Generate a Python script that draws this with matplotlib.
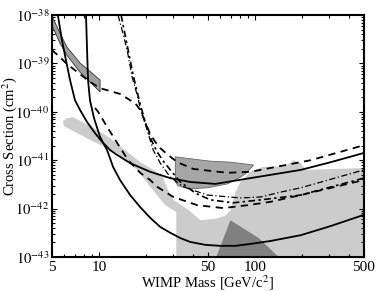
import numpy as np
import matplotlib
matplotlib.use('Agg')
import matplotlib.pyplot as plt
from matplotlib.ticker import LogLocator, FixedLocator, NullFormatter

plt.rcParams['font.family'] = ['Liberation Serif', 'DejaVu Serif']
plt.rcParams['mathtext.fontset'] = 'stix'

# ---- data (mass in GeV/c^2, log10 of cross section in cm^2) ----
# solid limit, flattening one
solidA_m = [5.46, 5.63, 5.80, 6.15, 6.53, 7.03, 7.57, 8.40, 9.45, 10.49, 11.8, 13.09, 15.87, 21.34, 28.7, 38.6, 55.8, 93.8, 197, 307, 500]
solidA_s = [-38.0, -38.27, -38.52, -38.93, -39.34, -39.76, -39.96, -40.21, -40.44, -40.62, -40.79, -40.89, -41.06, -41.24, -41.37, -41.45, -41.49, -41.37, -41.20, -41.04, -40.85]

# solid limit, steep one
solidB_m = [8.27, 8.40, 8.52, 8.77, 9.31, 10.18, 11.29, 12.34, 13.68, 15.87, 18.41, 21.34, 24.75, 28.7, 33.3, 38.6,
            48.2, 60.1, 75.1, 93.8, 126, 197, 307, 500]
solidB_s = [-38.0, -38.72, -39.34, -39.76, -40.13, -40.52, -40.79, -41.14, -41.41, -41.72, -41.97, -42.19, -42.38, -42.50, -42.61, -42.69,
            -42.75, -42.77, -42.77, -42.73, -42.67, -42.55, -42.36, -42.13]

# dashed, upper
dashA_m = [5.0, 5.63, 6.24, 7.57, 8.77, 10.18, 11.8, 13.68, 15.87, 17.1, 18.41, 19.82, 21.34, 22.97, 24.75, 27.3, 31.8, 40.35, 66.7, 93.8, 126, 228, 500]
dashA_s = [-38.72, -38.87, -39.01, -39.22, -39.38, -39.51, -39.57, -39.63, -39.76, -39.82, -39.96, -40.21, -40.46, -40.62, -40.75, -40.87, -41.04, -41.18, -41.26, -41.24, -41.16, -41.00, -40.69]

# dashed, lower
dashB_m = [9.45, 9.9, 11.29, 13.09, 15.41, 18.41, 21.34, 23.66, 30.0, 42.8, 62.9, 89.7, 126, 197, 500]
dashB_s = [-39.92, -40.0, -40.31, -40.64, -41.0, -41.26, -41.41, -41.55, -41.76, -41.93, -41.99, -41.93, -41.86, -41.72, -41.41]

# dash-dot, thin
ddA_m = [13.28, 14.09, 15.18, 16.34, 17.61, 18.41, 20.41, 22.31, 24.75, 28.7, 34.8, 49.6, 80.9, 108.8, 146, 197, 500]
ddA_s = [-38.0, -38.31, -38.72, -39.28, -39.65, -39.92, -40.38, -40.79, -41.06, -41.35, -41.55, -41.72, -41.78, -41.76, -41.66, -41.57, -41.20]

# dash-dot, heavier
ddB_m = [13.89, 15.18, 16.59, 18.13, 19.82, 21.66, 23.66, 25.9, 28.7, 33.3, 41.6, 51.9, 72.9, 108.8, 197, 500]
ddB_s = [-38.0, -38.62, -39.24, -39.76, -40.21, -40.58, -40.83, -41.02, -41.20, -41.45, -41.68, -41.82, -41.88, -41.82, -41.72, -41.37]

# light gray allowed region
light_m = [5.89, 6.24, 6.82, 8.77, 11.29, 14.73, 18.41, 22.97, 25.7, 27.3, 30.0, 36.9, 44.8, 55.8, 64.8, 69.8,
           75.1, 80.9, 93.8, 112, 157, 177, 197, 212, 500, 500, 31.35, 31.35, 26.66, 21.34, 17.61, 13.09, 8.77, 6.53, 5.95]
light_s = [-40.19, -40.13, -40.11, -40.29, -40.50, -40.79, -41.04, -41.22, -41.35, -41.57, -41.82, -42.01, -42.24, -42.21, -42.15, -42.03,
           -41.66, -41.45, -41.24, -41.14, -41.12, -41.00, -41.06, -41.20, -41.16, -43.0, -43.0, -42.07, -41.93, -41.55, -41.20, -40.85, -40.58, -40.36, -40.29]

# dark triangle at the bottom
tri_m = [56.6, 69.8, 106, 142]
tri_s = [-43.0, -42.24, -42.61, -43.0]

# mid gray closed region around 30-100 GeV
mid_m = [30.9, 38.6, 51.9, 69.8, 98.1, 87.1, 80.9, 66.7, 49.6, 38.6, 32.3, 30.9]
mid_s = [-40.93, -40.97, -41.02, -41.04, -41.10, -41.28, -41.35, -41.49, -41.57, -41.59, -41.53, -41.45]

# band at low mass
band_m = [5.0, 5.63, 6.24, 7.57, 10.18, 10.18, 8.77, 7.57, 6.24, 5.63, 5.0]
band_s = [-38.02, -38.37, -38.66, -38.99, -39.34, -39.59, -39.38, -39.18, -38.83, -38.58, -38.21]

xticks = [5, 10, 50, 100, 500]
yticks = [1e-43, 1e-42, 1e-41, 1e-40, 1e-39, 1e-38]
ytick_labels = ['$10^{-43}$', '$10^{-42}$', '$10^{-41}$', '$10^{-40}$', '$10^{-39}$', '$10^{-38}$']


def sig(vals):
    return [10.0 ** v for v in vals]


fig = plt.figure(figsize=(3.79, 2.91), dpi=100)
ax = fig.add_axes([0.137, 0.117, 0.823, 0.831])

ax.fill(light_m, sig(light_s), color='#cccccc', lw=0, zorder=1)
ax.fill(tri_m, sig(tri_s), color='#808080', lw=0, zorder=2)
ax.fill(mid_m, sig(mid_s), facecolor='#a6a6a6', edgecolor='#666666', lw=0.6, zorder=2)
ax.fill(band_m, sig(band_s), facecolor='#a0a0a0', edgecolor='#333333', lw=0.6, zorder=2)

ax.plot(solidA_m, sig(solidA_s), color='k', lw=1.3, zorder=5)
ax.plot(solidB_m, sig(solidB_s), color='k', lw=1.3, zorder=5)
ax.plot(dashA_m, sig(dashA_s), color='k', lw=1.3, ls=(0, (4, 3)), zorder=5)
ax.plot(dashB_m, sig(dashB_s), color='k', lw=1.3, ls=(0, (4, 3)), zorder=5)
ax.plot(ddA_m, sig(ddA_s), color='k', lw=0.9, ls=(0, (5, 2, 1, 2)), zorder=5)
ax.plot(ddB_m, sig(ddB_s), color='k', lw=1.2, ls=(0, (4, 2, 1.5, 2)), zorder=5)

ax.set_xscale('log')
ax.set_yscale('log')
ax.set_xlim(5, 500)
ax.set_ylim(1e-43, 1e-38)

ax.xaxis.set_major_locator(FixedLocator(xticks))
ax.set_xticklabels([str(t) for t in xticks])
ax.xaxis.set_minor_locator(LogLocator(base=10, subs=np.arange(1, 10)))
ax.xaxis.set_minor_formatter(NullFormatter())
ax.yaxis.set_major_locator(FixedLocator(yticks))
ax.set_yticklabels(ytick_labels)
ax.yaxis.set_minor_locator(LogLocator(base=10, subs=np.arange(2, 10), numticks=20))
ax.yaxis.set_minor_formatter(NullFormatter())

ax.tick_params(which='both', direction='in', top=True, right=True, labelsize=11, width=0.8)
ax.tick_params(axis='y', labelsize=10.5, pad=2)
ax.tick_params(which='major', length=3.5)
ax.tick_params(which='minor', length=2)
ax.tick_params(axis='x', pad=3)
for s in ax.spines.values():
    s.set_linewidth(1.5)

ax.set_xlabel('WIMP Mass [GeV/c$^2$]', fontsize=10.5)
ax.set_ylabel('Cross Section (cm$^2$)', fontsize=10.5)
ax.xaxis.set_label_coords(0.5, -0.066)
ax.yaxis.set_label_coords(-0.107, 0.5)

fig.savefig('out.png', dpi=100)
